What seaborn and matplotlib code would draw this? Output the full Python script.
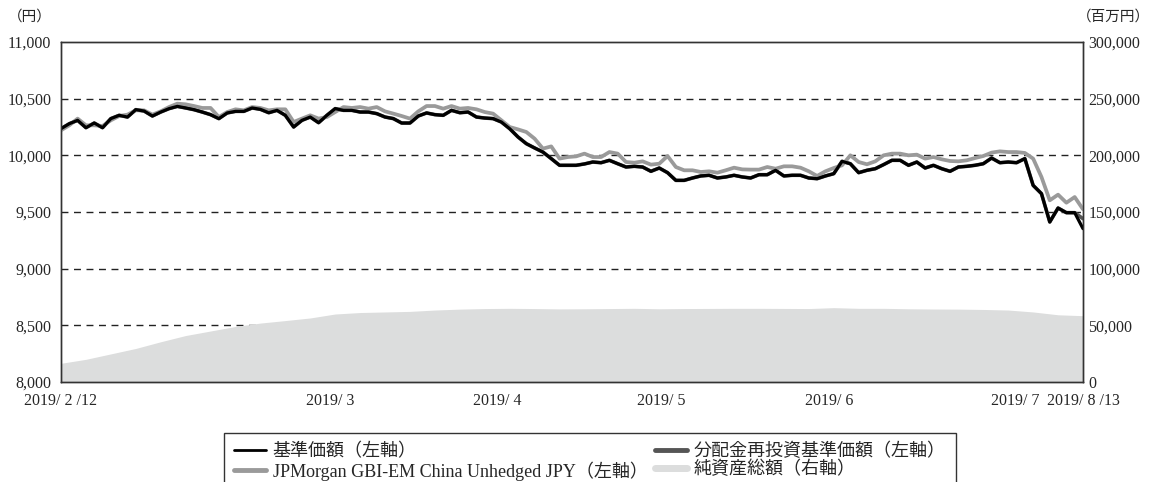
import numpy as np
import pandas as pd
import matplotlib.pyplot as plt
import seaborn as sns
from matplotlib.lines import Line2D

sns.set_style("white")
# 数字は明朝風のセリフ体、和文は Noto Sans CJK JP へフォールバック
plt.rcParams['font.family'] = ['Liberation Serif', 'Noto Sans CJK JP']
plt.rcParams['axes.unicode_minus'] = False

# 基準価額（円）
nav = [10235, 10279, 10309, 10244, 10285, 10244, 10324, 10353, 10338, 10403, 10391, 10347,
       10382, 10412, 10432, 10418, 10403, 10382, 10359, 10324, 10374, 10388, 10388,
       10418, 10406, 10376, 10397, 10353, 10250, 10309, 10338, 10288, 10353, 10412, 10397,
       10397, 10382, 10382, 10368, 10338, 10324, 10285, 10285, 10347, 10374, 10359, 10353,
       10397, 10376,
       10382, 10338, 10329, 10324, 10294, 10235, 10162, 10103, 10065, 10029, 9971, 9912,
       9912, 9912, 9924, 9941, 9935, 9956, 9926, 9897, 9903, 9897, 9859, 9888,
       9847, 9779, 9779, 9800, 9818, 9824, 9800, 9809, 9824, 9809, 9800, 9829, 9829, 9868,
       9818, 9824, 9824, 9800, 9794, 9818, 9838, 9947, 9926, 9847,
       9868, 9882, 9918, 9956, 9956, 9912, 9941, 9888, 9912, 9882, 9859, 9897, 9903, 9912,
       9926, 9976, 9935, 9941, 9935, 9971, 9735, 9662, 9412, 9535, 9494, 9494, 9353]

# 分配金再投資基準価額（円）: 最終日のみ基準価額と異なる
nav_reinv = nav[:-1] + [9441]

# JPMorgan GBI-EM China Unhedged JPY（円換算）
jpm = [10221, 10265, 10324, 10265, 10265, 10259, 10309, 10347, 10359, 10397, 10397, 10359,
       10388, 10426, 10456, 10450, 10435, 10418, 10418, 10338, 10382, 10406, 10397,
       10426, 10418, 10397, 10406, 10406, 10294, 10324, 10353, 10324, 10338, 10382, 10426,
       10418, 10426, 10412, 10426, 10388, 10368, 10347, 10324, 10388, 10435, 10435, 10412,
       10435, 10412,
       10418, 10406, 10382, 10368, 10309, 10250, 10229, 10206, 10147, 10059, 10079, 9971,
       9985, 9991, 10015, 9985, 9985, 10029, 10015, 9941, 9935, 9947, 9918, 9926,
       9994, 9897, 9868, 9868, 9853, 9859, 9847, 9868, 9891, 9876, 9874, 9874, 9897, 9882,
       9903, 9903, 9891, 9859, 9818, 9859, 9888, 9912, 10000, 9941,
       9921, 9947, 10000, 10015, 10015, 10000, 10006, 9971, 9985, 9965, 9950, 9947, 9956,
       9976, 9994, 10024, 10035, 10029, 10029, 10021, 9971, 9809, 9603, 9653, 9582, 9632, 9524]

# 純資産総額（百万円）: 3営業日おき
assets = [16500, 20000, 24800, 29600, 35500, 41000, 45000, 49000, 52000, 54200, 56500,
          60000, 61300, 61800, 62300, 63500, 64300, 64800, 65000, 64800, 64500, 64600,
          64800, 65000, 64600, 64800, 64900, 65000, 65000, 64900, 64800, 65600, 65000,
          65000, 64600, 64400, 64300, 64000, 63500, 61800, 59300, 58500]

tick_pos = [0, 32.4, 52.5, 72.2, 92.5, 114.8, 123]
tick_labels = ['2019/ 2 /12', '2019/ 3', '2019/ 4', '2019/ 5', '2019/ 6', '2019/ 7', '2019/ 8 /13']

df = pd.DataFrame({'idx': np.arange(len(nav)), 'nav': nav, 'nav_reinv': nav_reinv, 'jpm': jpm})
asset_idx = np.arange(0, len(nav), 3)

fig = plt.figure(figsize=(11.54, 4.82), dpi=100)
ax = fig.add_axes([61 / 1154, 1 - 382 / 482, 1022 / 1154, 340 / 482])
ax2 = ax.twinx()
ax.set_zorder(ax2.get_zorder() + 1)
ax.patch.set_visible(False)

# 右軸: 純資産総額とグリッド
for v in range(50000, 300000, 50000):
    ax2.axhline(v, color='#222222', lw=1.0, ls=(0, (5, 4)), zorder=1)
ax2.fill_between(asset_idx, assets, 0, color='#dcdddd', lw=0, zorder=2)
ax2.set_ylim(0, 300000)
ax2.set_yticks(range(0, 300001, 50000))
ax2.set_yticklabels([f'{v:,}' for v in range(0, 300001, 50000)])
ax2.tick_params(axis='y', length=0, labelsize=11.5, pad=4)

# 左軸: 基準価額など
sns.lineplot(data=df, x='idx', y='nav_reinv', ax=ax, color='#555555', lw=2.6)
sns.lineplot(data=df, x='idx', y='jpm', ax=ax, color='#9a9a9a', lw=2.7)
sns.lineplot(data=df, x='idx', y='nav', ax=ax, color='black', lw=2.3)
ax.set_xlim(0, len(nav) - 1)
ax.set_ylim(8000, 11000)
ax.set_yticks(range(8000, 11001, 500))
ax.set_yticklabels([f'{v:,}' for v in range(8000, 11001, 500)])
ax.tick_params(axis='y', length=0, labelsize=11.5, pad=7)
ax.set_xticks(tick_pos)
ax.set_xticklabels(tick_labels)
ax.tick_params(axis='x', direction='in', length=8, width=1, color='#333333', labelsize=11.5, pad=8)
ax.set_xlabel('')
ax.set_ylabel('')

for a in (ax, ax2):
    for s in a.spines.values():
        s.set_color('#333333')
        s.set_linewidth(1.0)

fig.text(8 / 1154, 1 - 17 / 482, '（円）', fontsize=10.5, va='center')
fig.text(1150 / 1154, 1 - 17 / 482, '（百万円）', fontsize=10.5, va='center', ha='right')

handles = [Line2D([], [], color='black', lw=2),
           Line2D([], [], color='#9a9a9a', lw=3.5),
           Line2D([], [], color='#555555', lw=3.5),
           Line2D([], [], color='#dcdddd', lw=5)]
labels = ['基準価額（左軸）', 'JPMorgan GBI-EM China Unhedged JPY（左軸）',
          '分配金再投資基準価額（左軸）', '純資産総額（右軸）']
leg = fig.legend(handles, labels, ncol=2, loc='upper left',
                 bbox_to_anchor=(224 / 1154, 1 - 433 / 482), frameon=True, fancybox=False,
                 edgecolor='black', fontsize=13, handlelength=1.8, handletextpad=0.35,
                 columnspacing=0.4, borderpad=0.55, labelspacing=0.05, borderaxespad=0)
leg.get_frame().set_linewidth(1.0)

fig.savefig('out.png', dpi=100)
